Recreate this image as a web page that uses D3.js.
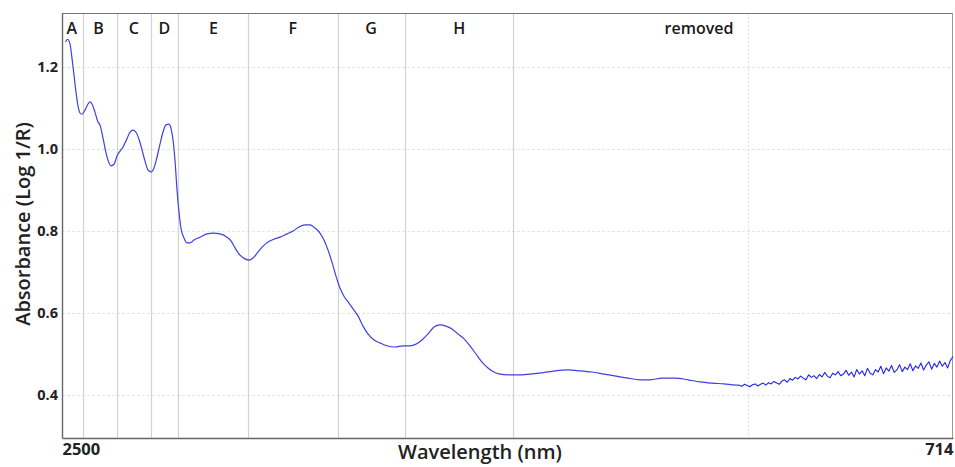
<!DOCTYPE html>
<html>
<head>
<meta charset="utf-8">
<script src="https://cdn.jsdelivr.net/npm/d3@7"></script>
<style>
  html, body { margin: 0; padding: 0; background: #fff; }
  svg { display: block; font-family: "Open Sans", "DejaVu Sans", sans-serif; }
</style>
</head>
<body>
<svg id="chart" width="955" height="467"></svg>
<script>
// ---- data (x in wavenumber cm^-1, labelled as wavelength nm) ----
// smooth part of the spectrum
const wavenumber = [
  4039,4062,4090,4112,4135,4157,4180,4202,4224,4258,4292,4314,4337,4370,4404,4426,4449,4483,4516,4550,
  4584,4617,4651,4685,4718,4763,4797,4830,4864,4898,4931,4965,4999,5032,5066,5100,5133,5167,5201,5223,
  5246,5268,5291,5313,5335,5369,5403,5437,5481,5549,5627,5695,5773,5852,5897,5942,5998,6054,6099,6144,
  6200,6256,6312,6379,6447,6525,6593,6660,6727,6783,6839,6896,6940,6985,7030,7075,7120,7165,7221,7277,
  7322,7378,7434,7502,7569,7647,7737,7827,7906,7973,8040,8108,8175,8242,8310,8377,8444,8512,8579,8646,
  8714,8781,8848,8916,9006,9118,9252,9387,9533,9679,9813,9948,10083,10217,10352,10487,10599,10734,10880,11026,
  11160,11295,11430,11565,11600
];
const absorbance = [
  1.261,1.268,1.256,1.222,1.180,1.139,1.105,1.088,1.085,1.095,1.110,1.115,1.110,1.090,1.066,1.059,1.039,1.002,0.973,0.959,
  0.963,0.983,0.995,1.005,1.020,1.041,1.046,1.041,1.024,0.998,0.971,0.949,0.944,0.954,0.980,1.012,1.041,1.059,1.061,1.051,
  1.022,0.973,0.900,0.846,0.807,0.783,0.771,0.771,0.778,0.785,0.793,0.795,0.793,0.785,0.776,0.759,0.741,0.732,0.729,0.734,
  0.749,0.763,0.773,0.780,0.785,0.793,0.800,0.810,0.815,0.815,0.807,0.795,0.778,0.754,0.724,0.690,0.661,0.641,0.624,0.607,
  0.593,0.568,0.549,0.534,0.527,0.520,0.517,0.520,0.520,0.524,0.534,0.549,0.566,0.571,0.568,0.561,0.549,0.537,0.520,0.500,
  0.480,0.466,0.456,0.451,0.449,0.449,0.451,0.454,0.459,0.461,0.459,0.456,0.451,0.446,0.441,0.437,0.437,0.441,0.441,0.437,
  0.432,0.429,0.427,0.424,0.424
];
// noisy tail of the spectrum
const tailWavenumber = [
  11600,11630,11660,11690,11720,11750,11780,11810,11840,11870,
  11900,11930,11960,11990,12020,12050,12080,12110,12140,12170,
  12200,12230,12260,12290,12320,12350,12380,12410,12440,12470,
  12500,12530,12560,12590,12620,12650,12680,12710,12740,12770,
  12800,12830,12860,12890,12920,12950,12980,13010,13040,13070,
  13100,13130,13160,13190,13220,13250,13280,13310,13340,13370,
  13400,13430,13460,13490,13520,13550,13580,13610,13640,13670,
  13700,13730,13760,13790,13820,13850,13880,13910,13940,13970,
  14000
];
const tailAbsorbance = [
  0.424,0.421,0.426,0.423,0.420,0.425,0.427,0.422,0.426,0.429,
  0.424,0.430,0.427,0.433,0.429,0.426,0.434,0.437,0.431,0.440,
  0.436,0.443,0.439,0.446,0.441,0.437,0.449,0.443,0.447,0.440,
  0.450,0.444,0.455,0.446,0.442,0.453,0.449,0.457,0.447,0.451,
  0.460,0.448,0.456,0.444,0.462,0.451,0.459,0.447,0.465,0.453,
  0.449,0.462,0.456,0.470,0.452,0.466,0.458,0.472,0.455,0.461,
  0.474,0.457,0.468,0.462,0.476,0.459,0.471,0.465,0.478,0.461,
  0.473,0.481,0.463,0.477,0.468,0.483,0.470,0.479,0.466,0.484,
  0.494
];
// region boundaries (cm^-1) and region labels
const boundaries = [4232, 4614, 4995, 5305, 6091, 7101, 7850, 9058];
const regionLabels = ["A","B","C","D","E","F","G","H","removed"];
const regionLabelPos = [4110, 4410, 4805, 5150, 5700, 6590, 7470, 8460, 11150];
const dottedGrid = [11702];
const yTicks = [0.4, 0.6, 0.8, 1.0, 1.2];
const xTicks = [4000, 14000];   // shown as 2500 and 714 nm

// ---- layout ----
const W = 955, H = 467;
const m = { left: 62, top: 13, right: 2, bottom: 29 };
const svg = d3.select("#chart");
const x = d3.scaleLinear().domain([4000, 14000]).range([m.left, W - m.right]);
const y = d3.scaleLinear().domain([0.295, 1.332]).range([H - m.bottom, m.top]);

// horizontal faint grid
svg.append("g").selectAll("line").data(yTicks).join("line")
  .attr("x1", m.left).attr("x2", W - m.right)
  .attr("y1", d => Math.round(y(d)) + 0.5).attr("y2", d => Math.round(y(d)) + 0.5)
  .attr("stroke", "#e4e4e4").attr("stroke-dasharray", "3,2").attr("stroke-width", 1);

// dotted vertical grid
svg.append("g").selectAll("line").data(dottedGrid).join("line")
  .attr("x1", d => Math.round(x(d)) + 0.5).attr("x2", d => Math.round(x(d)) + 0.5)
  .attr("y1", m.top).attr("y2", H - m.bottom)
  .attr("stroke", "#e0e0e0").attr("stroke-dasharray", "2,2");

// region boundaries
svg.append("g").selectAll("line").data(boundaries).join("line")
  .attr("x1", d => Math.round(x(d)) + 0.5).attr("x2", d => Math.round(x(d)) + 0.5)
  .attr("y1", m.top).attr("y2", H - m.bottom)
  .attr("stroke", "#d2d2d2").attr("stroke-width", 1.2);

// frame (top, right)
svg.append("line").attr("x1", m.left).attr("x2", W - m.right).attr("y1", m.top + 0.5).attr("y2", m.top + 0.5)
  .attr("stroke", "#777").attr("stroke-width", 1.2);
svg.append("line").attr("x1", W - m.right - 0.5).attr("x2", W - m.right - 0.5).attr("y1", m.top).attr("y2", H - m.bottom)
  .attr("stroke", "#999");

// axes
const yAxis = d3.axisLeft(y).tickValues(yTicks).tickSize(0).tickPadding(4).tickFormat(d3.format(".1f"));
const gy = svg.append("g").attr("transform", `translate(${m.left},0)`).call(yAxis);
gy.select(".domain").attr("stroke", "#666").attr("stroke-width", 1.4);
gy.selectAll("text").attr("font-size", 14.5).attr("font-weight", 700).attr("fill", "#222")
  .attr("font-family", "'Open Sans', sans-serif");

const xAxis = d3.axisBottom(x).tickValues(xTicks).tickSize(0).tickPadding(5)
  .tickFormat(d => Math.round(1e7 / d));
const gx = svg.append("g").attr("transform", `translate(0,${H - m.bottom})`).call(xAxis);
gx.select(".domain").attr("stroke", "#666").attr("stroke-width", 1.4);
gx.selectAll("text").attr("font-size", 16.5).attr("font-weight", 700).attr("fill", "#222")
  .attr("font-family", "'Open Sans', sans-serif")
  .attr("text-anchor", (d, i) => i === 0 ? "start" : "end");

// region labels
svg.append("g").selectAll("text").data(regionLabels).join("text")
  .attr("x", (d, i) => x(regionLabelPos[i]))
  .attr("y", 33.5)
  .attr("text-anchor", "middle")
  .attr("font-size", 16).attr("font-weight", 600).attr("fill", "#1a1a1a")
  .text(d => d);

// spectrum
const line = d3.line().x(d => x(d[0])).y(d => y(d[1]));
const pts = wavenumber.map((w, i) => [w, absorbance[i]]);
svg.append("path").datum(pts)
  .attr("fill", "none").attr("stroke", "#4040e0").attr("stroke-width", 1.2)
  .attr("stroke-linejoin", "round")
  .attr("d", line.curve(d3.curveMonotoneX));
const tailPts = tailWavenumber.map((w, i) => [w, tailAbsorbance[i]]);
svg.append("path").datum(tailPts)
  .attr("fill", "none").attr("stroke", "#2424e6").attr("stroke-width", 1.1)
  .attr("stroke-linejoin", "round")
  .attr("d", line.curve(d3.curveLinear));

// axis titles
svg.append("text").attr("x", 480).attr("y", 459).attr("text-anchor", "middle")
  .attr("font-size", 20).attr("font-weight", 600).attr("fill", "#222").text("Wavelength (nm)");
svg.append("text").attr("transform", "translate(30,224) rotate(-90)").attr("text-anchor", "middle")
  .attr("font-size", 20).attr("font-weight", 600).attr("fill", "#222").text("Absorbance (Log 1/R)");
</script>
</body>
</html>
